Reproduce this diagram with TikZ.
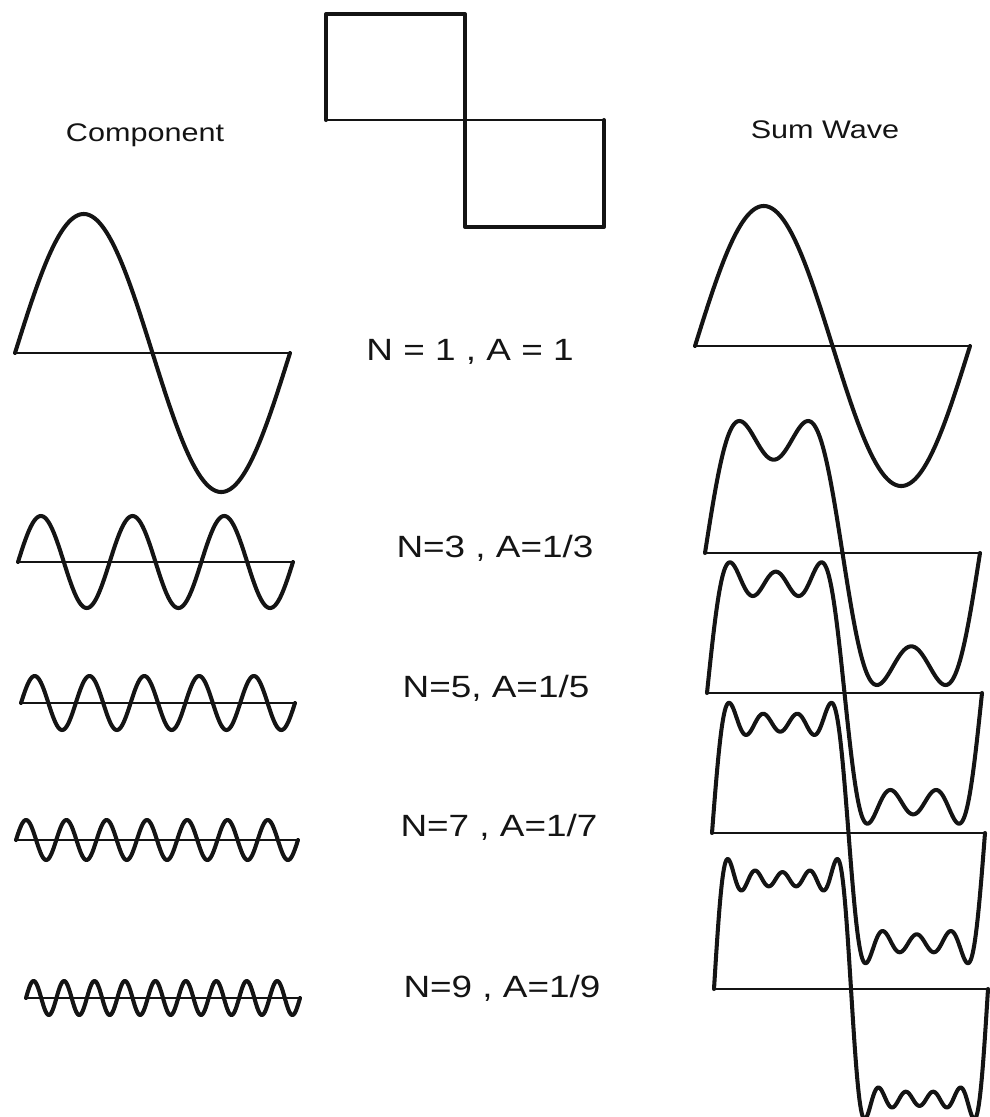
\documentclass[tikz,border=0pt]{standalone}
\usepackage{fontspec}
\setmainfont{Liberation Sans}
\newfontfamily\letterfont[FakeStretch=1.2]{Liberation Sans}
\usetikzlibrary{positioning}
\definecolor{inkblack}{HTML}{141414}

\begin{document}
\begin{tikzpicture}[x=0.2mm, y=-0.2mm, line cap=round, line join=round]
      \useasboundingbox (0,0) rectangle (990,1117);
      \tikzset{
        wave/.style={line width=2.3pt, inkblack},
        axisline/.style={line width=1.3pt, inkblack},
        title/.style={font=\letterfont\fontsize{14.5}{16}\selectfont, inkblack},
        harm/.style={font=\letterfont\fontsize{17.5}{20}\selectfont, inkblack}
      }

      % Onda cuadrada
      \draw[wave] (326,120) -- (326,14) -- (465,14) -- (465,227) -- (604,227) -- (604,120);
      \draw[axisline] (326,120) -- (604,120);

      % Titulos
      \node[title] (comp) at (145,135) {Component};
      \node[title] (sum) at (825,130) {Sum Wave};

      % Componentes
      \foreach \n/\yc/\xa/\xb/\amp in {1/353/15/290/139, 3/562/18/293/46, 5/703/21/295/27, 7/840/16/298/20, 9/998/26/300/17}{
        \draw[axisline] (\xa,\yc) -- (\xb,\yc);
        \draw[wave] plot[domain=0:360, samples=361, variable=\t] ({\xa+(\xb-\xa)*(\t/360)}, {\yc-\amp*sin(\n*\t)});
      }

      % Etiquetas
      \node[harm] (n1) at (470,352) {N = 1 , A = 1};
      \node[harm] (n3) at (495,548) {N=3 , A=1/3};
      \node[harm] (n5) at (496,688) {N=5, A=1/5};
      \node[harm] (n7) at (499,827) {N=7 , A=1/7};
      \node[harm] (n9) at (502,988) {N=9 , A=1/9};

      % Ondas suma
      \foreach \yc/\xa/\xb/\f in {346/695/970/{sin(\t)},
          553/705/980/{sin(\t)+sin(3*\t)/3},
          693/707/982/{sin(\t)+sin(3*\t)/3+sin(5*\t)/5},
          833/712/985/{sin(\t)+sin(3*\t)/3+sin(5*\t)/5+sin(7*\t)/7},
          989/714/988/{sin(\t)+sin(3*\t)/3+sin(5*\t)/5+sin(7*\t)/7+sin(9*\t)/9}}{
        \draw[axisline] (\xa,\yc) -- (\xb,\yc);
        \draw[wave] plot[domain=0:360, samples=361, variable=\t] ({\xa+(\xb-\xa)*(\t/360)}, {\yc-140*(\f)});
      }
    \end{tikzpicture}
\end{document}
